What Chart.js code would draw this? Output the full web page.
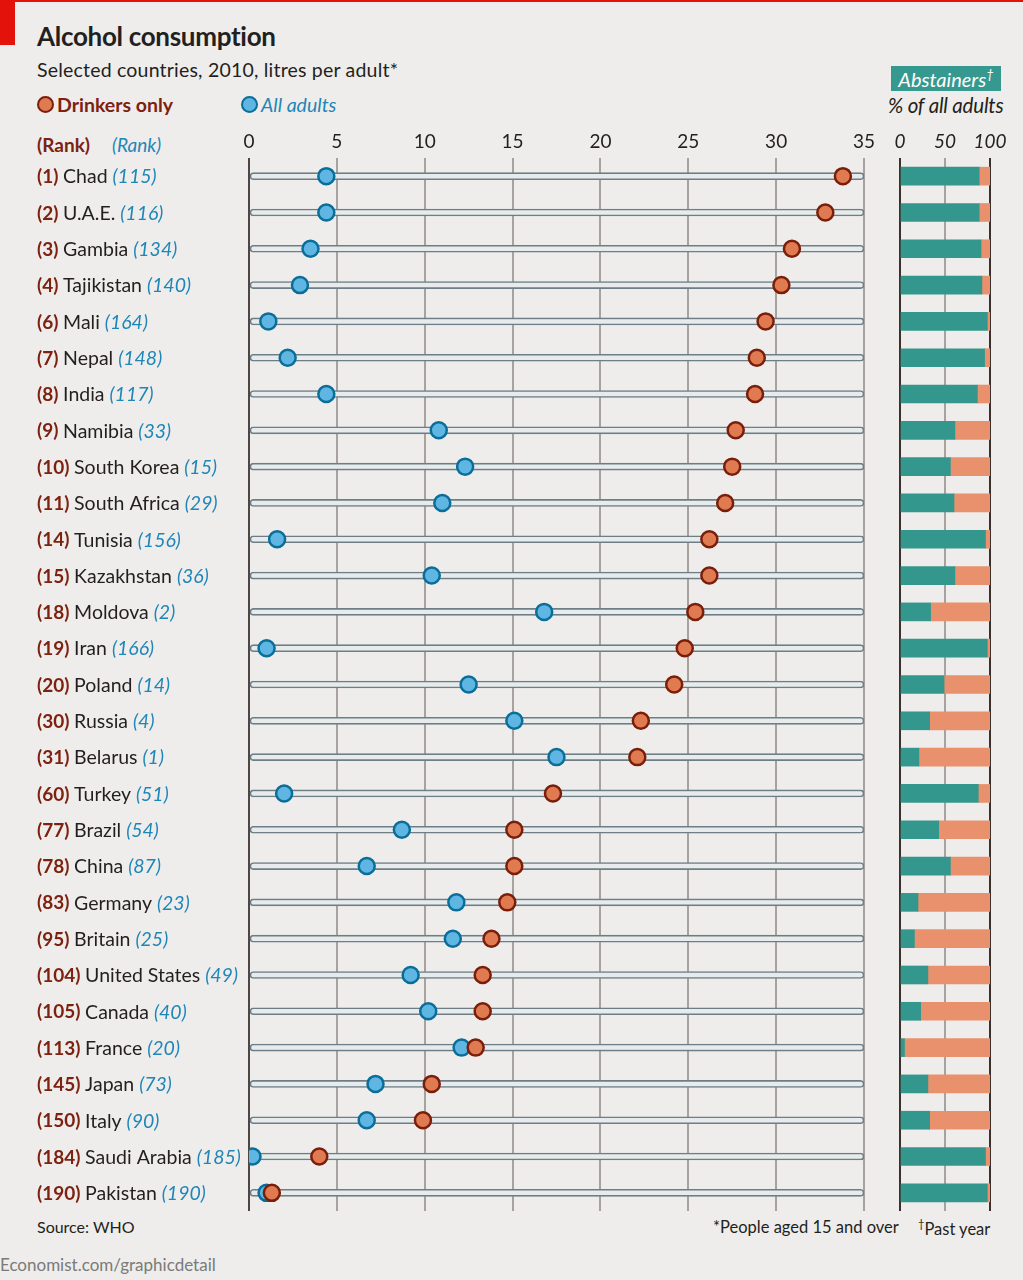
<!DOCTYPE html>
<html>
<head>
<meta charset="utf-8">
<title>Alcohol consumption</title>
<script src="https://cdn.jsdelivr.net/npm/chart.js@4.4.1/dist/chart.umd.min.js"></script>
<style>
  html, body { margin: 0; padding: 0; }
  body {
    width: 1023px; height: 1280px; position: relative; overflow: hidden;
    background: #eeedeb; font-family: Lato, "Open Sans", sans-serif; color: #231f20;
  }
  .abs { position: absolute; white-space: nowrap; }
  #topline { left: 0; top: 0; width: 1023px; height: 2px; background: #e3120b; }
  #redbox { left: 0; top: 0; width: 15px; height: 45px; background: #e3120b; }
  #title { left: 37px; top: 20px; font-size: 26px; font-weight: 700; letter-spacing: -0.3px; }
  #subtitle { left: 37px; top: 58px; font-size: 19.5px; letter-spacing: 0.2px; }
  .dot { display: inline-block; width: 13px; height: 13px; border-radius: 50%; vertical-align: -1px; margin-right: 3px; }
  #leg1 { left: 37px; top: 93px; font-size: 19.5px; font-weight: 700; color: #7d2110; }
  #leg1 .dot { background: #e07a50; border: 2.5px solid #7a1e0c; }
  #leg2 { left: 241px; top: 93px; font-size: 19.5px; font-style: italic; color: #1f86b8; }
  #leg2 .dot { background: #5fb6e3; border: 2.5px solid #0a6e99; }
  #rank1 { left: 37px; top: 133px; font-size: 19px; color: #7d2110; font-weight: 700; }
  #rank2 { left: 112px; top: 133px; font-size: 19px; color: #1f86b8; font-style: italic; }
  #abshead { left: 891px; top: 66px; width: 110px; height: 25px; background: #36998f; color: #fff;
    font-size: 20px; font-style: italic; text-align: center; line-height: 26px; }
  #abshead sup { font-size: 13px; line-height: 0; }
  #abssub { left: 888px; top: 93px; font-size: 20.5px; font-style: italic; letter-spacing: -0.2px; }
  #source { left: 37px; top: 1217px; font-size: 16px; }
  #note1 { left: 713px; top: 1217px; font-size: 16.5px; }
  #note2 { left: 918px; top: 1217px; font-size: 16.5px; }
  #note2 sup { font-size: 11px; }
  #credit { left: 0px; top: 1254px; font-size: 17px; color: #7a7a7a; }
  #main { left: 0; top: 125px; width: 880px; height: 1086px; }
  #side { left: 885px; top: 125px; width: 138px; height: 1086px; }
</style>
</head>
<body>
<div class="abs" id="topline"></div>
<div class="abs" id="redbox"></div>
<div class="abs" id="title">Alcohol consumption</div>
<div class="abs" id="subtitle">Selected countries, 2010, litres per adult*</div>
<div class="abs" id="leg1"><span class="dot"></span>Drinkers only</div>
<div class="abs" id="leg2"><span class="dot"></span>All adults</div>
<div class="abs" id="rank1">(Rank)</div>
<div class="abs" id="rank2">(Rank)</div>
<div class="abs" id="abshead">Abstainers<sup>†</sup></div>
<div class="abs" id="abssub">% of all adults</div>
<div class="abs" id="main"><canvas id="dots"></canvas></div>
<div class="abs" id="side"><canvas id="abstain"></canvas></div>
<div class="abs" id="source">Source: WHO</div>
<div class="abs" id="note1">*People aged 15 and over</div>
<div class="abs" id="note2"><sup>†</sup>Past year</div>
<div class="abs" id="credit">Economist.com/graphicdetail</div>

<script>
// countries in drinkers-only rank order
const countries = ['Chad', 'U.A.E.', 'Gambia', 'Tajikistan', 'Mali', 'Nepal', 'India', 'Namibia',
  'South Korea', 'South Africa', 'Tunisia', 'Kazakhstan', 'Moldova', 'Iran', 'Poland', 'Russia',
  'Belarus', 'Turkey', 'Brazil', 'China', 'Germany', 'Britain', 'United States', 'Canada',
  'France', 'Japan', 'Italy', 'Saudi Arabia', 'Pakistan'];
const drinkerRank = [1, 2, 3, 4, 6, 7, 8, 9, 10, 11, 14, 15, 18, 19, 20, 30, 31, 60, 77, 78, 83, 95,
  104, 105, 113, 145, 150, 184, 190];
const adultRank = [115, 116, 134, 140, 164, 148, 117, 33, 15, 29, 156, 36, 2, 166, 14, 4, 1, 51, 54,
  87, 23, 25, 49, 40, 20, 73, 90, 185, 190];
// litres per adult
const drinkersOnly = [33.8, 32.8, 30.9, 30.3, 29.4, 28.9, 28.8, 27.7, 27.5, 27.1, 26.2, 26.2, 25.4,
  24.8, 24.2, 22.3, 22.1, 17.3, 15.1, 15.1, 14.7, 13.8, 13.3, 13.3, 12.9, 10.4, 9.9, 4.0, 1.3];
const allAdults = [4.4, 4.4, 3.5, 2.9, 1.1, 2.2, 4.4, 10.8, 12.3, 11.0, 1.6, 10.4, 16.8, 1.0, 12.5,
  15.1, 17.5, 2.0, 8.7, 6.7, 11.8, 11.6, 9.2, 10.2, 12.1, 7.2, 6.7, 0.2, 1.0];
// abstainers, % of all adults (past year)
const abstainers = [88, 88, 90, 91, 97, 94, 86, 61, 56, 60, 95, 61, 34, 97, 49, 33, 21, 87, 43, 56,
  20, 16, 31, 23, 5, 31, 33, 95, 97];
const litreTicks = { min: 0, max: 35, step: 5 };
const pctTicks = [0, 50, 100];

const FONT = 'Lato, "Open Sans", sans-serif';
const DARK_RED = '#7d2110';
const BLUE_TXT = '#1f86b8';

// draws "(rank) Country (rank)" next to each row
const rowLabels = {
  id: 'rowLabels',
  afterDraw(chart) {
    const ctx = chart.ctx;
    const yScale = chart.scales.y;
    ctx.save();
    ctx.textBaseline = 'middle';
    countries.forEach((name, i) => {
      const y = yScale.getPixelForValue(i) + 1;
      let x = 37;
      ctx.font = '700 19px ' + FONT;
      ctx.fillStyle = DARK_RED;
      const r1 = '(' + drinkerRank[i] + ') ';
      ctx.fillText(r1, x, y);
      x += ctx.measureText(r1).width;
      ctx.font = '400 19.5px ' + FONT;
      ctx.fillStyle = '#231f20';
      const n = name + ' ';
      ctx.fillText(n, x, y);
      x += ctx.measureText(n).width;
      ctx.font = 'italic 400 19.5px ' + FONT;
      ctx.fillStyle = BLUE_TXT;
      ctx.fillText('(' + adultRank[i] + ')', x, y);
    });
    ctx.restore();
  }
};

new Chart(document.getElementById('dots'), {
  type: 'bar',
  data: {
    labels: countries,
    datasets: [
      {
        type: 'line',
        label: 'Drinkers only',
        data: drinkersOnly,
        showLine: false,
        pointRadius: 8,
        pointBorderWidth: 2.5,
        pointBackgroundColor: '#e07a50',
        pointBorderColor: '#7a1e0c',
        order: 1
      },
      {
        type: 'line',
        label: 'All adults',
        data: allAdults,
        showLine: false,
        pointRadius: 8,
        pointBorderWidth: 2.5,
        pointBackgroundColor: '#5fb6e3',
        pointBorderColor: '#0a6e99',
        order: 2
      },
      {
        label: 'track',
        data: countries.map(() => [litreTicks.min, litreTicks.max]),
        barThickness: 7,
        borderWidth: 1.6,
        borderColor: '#6d7e87',
        backgroundColor: '#e8ebec',
        borderRadius: 4,
        borderSkipped: false,
        order: 3
      }
    ]
  },
  options: {
    indexAxis: 'y',
    responsive: true,
    maintainAspectRatio: false,
    animation: false,
    layout: { autoPadding: false, padding: { left: 249, right: 16, top: 0, bottom: 0 } },
    plugins: { legend: { display: false }, tooltip: { enabled: false } },
    scales: {
      x: {
        type: 'linear',
        position: 'top',
        min: litreTicks.min,
        max: litreTicks.max,
        afterFit(scale) { scale.height = 33; },
        ticks: { stepSize: litreTicks.step, color: '#231f20', padding: 5, font: { family: FONT, size: 19 } },
        grid: {
          drawTicks: false,
          lineWidth: 2,
          color: (c) => c.tick && c.tick.value === 0 ? '#4e4642' : '#a8a29e'
        },
        border: { display: false }
      },
      y: { display: false, offset: true }
    }
  },
  plugins: [rowLabels]
});

new Chart(document.getElementById('abstain'), {
  type: 'bar',
  data: {
    labels: countries,
    datasets: [
      {
        label: 'Abstainers',
        data: abstainers,
        backgroundColor: '#33978d',
        barThickness: 18,
        borderWidth: 0
      },
      {
        label: 'Drank in past year',
        data: abstainers.map(v => 100 - v),
        backgroundColor: '#e8916c',
        barThickness: 18,
        borderWidth: 0
      }
    ]
  },
  options: {
    indexAxis: 'y',
    responsive: true,
    maintainAspectRatio: false,
    animation: false,
    layout: { autoPadding: false, padding: { left: 15, right: 33, top: 0, bottom: 0 } },
    plugins: { legend: { display: false }, tooltip: { enabled: false } },
    scales: {
      x: {
        type: 'linear',
        position: 'top',
        stacked: true,
        min: 0,
        max: 100,
        afterFit(scale) { scale.height = 33; },
        afterBuildTicks(scale) { scale.ticks = pctTicks.map(v => ({ value: v })); },
        ticks: { color: '#231f20', padding: 5, font: { family: FONT, size: 19, style: 'italic' } },
        grid: {
          drawTicks: false,
          lineWidth: 2,
          color: (c) => c.tick && c.tick.value === 50 ? '#a8a29e' : '#3b302c'
        },
        border: { display: false }
      },
      y: { display: false, stacked: true, offset: true }
    }
  }
});
</script>
</body>
</html>
